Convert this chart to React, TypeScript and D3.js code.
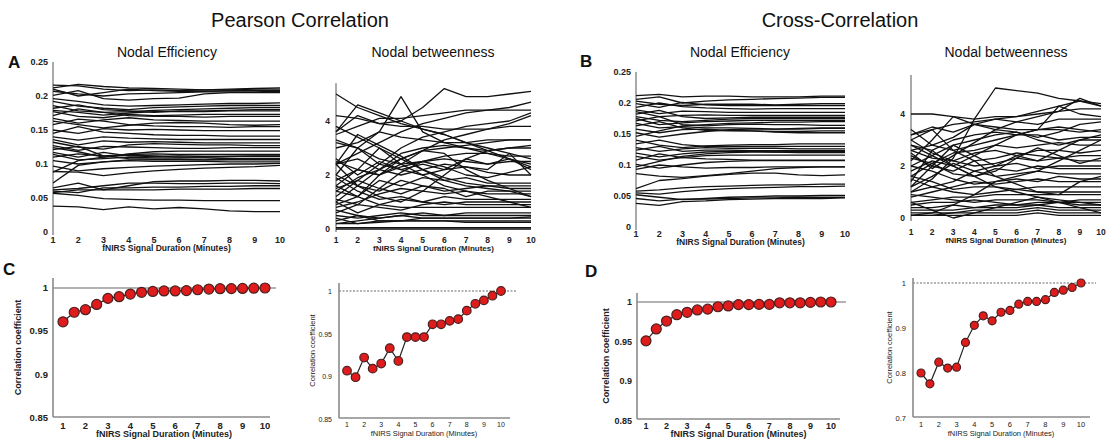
import React from "react";
import * as d3 from "d3";

const MINUTES = [1, 2, 3, 4, 5, 6, 7, 8, 9, 10];
const HALF_MINUTES = [1, 1.5, 2, 2.5, 3, 3.5, 4, 4.5, 5, 5.5, 6, 6.5, 7, 7.5, 8, 8.5, 9, 9.5, 10];
const EFF_TICKS = [0, 0.05, 0.1, 0.15, 0.2, 0.25];
const BTW_TICKS = [0, 2, 4];
const CORR_TICKS_HIGH = [0.85, 0.9, 0.95, 1];
const CORR_TICKS_LOW = [0.7, 0.8, 0.9, 1];

const effPearson = [
  [0.216, 0.215, 0.21, 0.208, 0.209, 0.208, 0.209, 0.21, 0.211, 0.212],
  [0.212, 0.217, 0.214, 0.212, 0.211, 0.21, 0.209, 0.209, 0.21, 0.21],
  [0.207, 0.203, 0.2, 0.203, 0.204, 0.205, 0.206, 0.206, 0.206, 0.207],
  [0.21, 0.2, 0.205, 0.21, 0.208, 0.207, 0.207, 0.208, 0.208, 0.208],
  [0.201, 0.208, 0.196, 0.194, 0.196, 0.197, 0.203, 0.205, 0.205, 0.205],
  [0.196, 0.192, 0.187, 0.185, 0.186, 0.187, 0.188, 0.189, 0.189, 0.19],
  [0.192, 0.185, 0.182, 0.18, 0.183, 0.184, 0.185, 0.186, 0.186, 0.186],
  [0.186, 0.178, 0.176, 0.177, 0.179, 0.18, 0.181, 0.182, 0.183, 0.183],
  [0.182, 0.187, 0.18, 0.178, 0.176, 0.178, 0.178, 0.179, 0.18, 0.18],
  [0.179, 0.176, 0.172, 0.175, 0.177, 0.177, 0.177, 0.178, 0.178, 0.178],
  [0.177, 0.17, 0.168, 0.173, 0.171, 0.172, 0.173, 0.173, 0.173, 0.173],
  [0.171, 0.181, 0.176, 0.171, 0.17, 0.17, 0.169, 0.17, 0.17, 0.17],
  [0.167, 0.16, 0.165, 0.168, 0.165, 0.164, 0.163, 0.163, 0.163, 0.163],
  [0.163, 0.158, 0.153, 0.157, 0.16, 0.161, 0.16, 0.158, 0.157, 0.158],
  [0.158, 0.166, 0.163, 0.158, 0.156, 0.155, 0.155, 0.154, 0.155, 0.155],
  [0.15, 0.145, 0.152, 0.15, 0.151, 0.15, 0.149, 0.149, 0.149, 0.149],
  [0.145, 0.155, 0.147, 0.145, 0.143, 0.142, 0.142, 0.141, 0.141, 0.141],
  [0.14, 0.135, 0.14, 0.138, 0.137, 0.136, 0.136, 0.136, 0.136, 0.136],
  [0.136, 0.128, 0.134, 0.132, 0.133, 0.132, 0.131, 0.131, 0.131, 0.131],
  [0.132, 0.125, 0.122, 0.128, 0.13, 0.129, 0.128, 0.128, 0.127, 0.127],
  [0.127, 0.12, 0.126, 0.125, 0.124, 0.123, 0.123, 0.124, 0.124, 0.124],
  [0.124, 0.118, 0.11, 0.115, 0.118, 0.119, 0.119, 0.119, 0.119, 0.119],
  [0.121, 0.126, 0.112, 0.114, 0.115, 0.114, 0.114, 0.114, 0.114, 0.114],
  [0.117, 0.11, 0.117, 0.112, 0.111, 0.112, 0.111, 0.111, 0.111, 0.111],
  [0.114, 0.106, 0.108, 0.11, 0.109, 0.109, 0.109, 0.108, 0.108, 0.108],
  [0.11, 0.115, 0.112, 0.108, 0.107, 0.107, 0.106, 0.106, 0.106, 0.106],
  [0.105, 0.1, 0.103, 0.105, 0.104, 0.104, 0.104, 0.103, 0.103, 0.103],
  [0.097, 0.09, 0.093, 0.095, 0.097, 0.098, 0.099, 0.1, 0.1, 0.101],
  [0.088, 0.105, 0.11, 0.113, 0.112, 0.11, 0.11, 0.111, 0.112, 0.112],
  [0.072, 0.098, 0.103, 0.106, 0.106, 0.106, 0.106, 0.107, 0.107, 0.107],
  [0.089, 0.088, 0.083, 0.087, 0.09, 0.092, 0.094, 0.095, 0.096, 0.098],
  [0.065, 0.072, 0.062, 0.068, 0.074, 0.075, 0.075, 0.076, 0.076, 0.075],
  [0.062, 0.064, 0.068, 0.072, 0.072, 0.071, 0.071, 0.072, 0.072, 0.071],
  [0.06, 0.058, 0.065, 0.065, 0.066, 0.066, 0.067, 0.067, 0.068, 0.068],
  [0.058, 0.062, 0.062, 0.062, 0.062, 0.063, 0.063, 0.063, 0.064, 0.064],
  [0.057, 0.054, 0.049, 0.048, 0.047, 0.047, 0.046, 0.046, 0.046, 0.046],
  [0.038, 0.037, 0.033, 0.037, 0.034, 0.036, 0.034, 0.031, 0.03, 0.03],
];

const btwPearson = [
  [3.6, 4.2, 3.9, 4.0, 4.5, 5.2, 4.9, 4.9, 5.0, 5.1],
  [5.0, 4.5, 4.2, 3.9, 3.7, 3.5, 3.2, 3.0, 2.8, 2.6],
  [2.0, 3.0, 3.6, 4.9, 3.6, 3.2, 3.0, 2.8, 2.6, 2.3],
  [3.6, 4.6, 4.3, 4.0, 3.7, 3.5, 3.2, 2.9, 2.6, 2.4],
  [2.4, 2.8, 3.2, 3.6, 3.9, 4.1, 4.3, 4.4, 4.5, 4.7],
  [1.5, 1.8, 2.4, 3.0, 3.4, 3.6, 3.8, 3.9, 4.0, 4.3],
  [2.5, 2.2, 2.0, 2.4, 2.9, 3.3, 3.5, 3.7, 3.9, 4.2],
  [3.5, 3.8, 4.1, 4.1, 4.2, 4.3, 4.4, 4.4, 4.4, 4.4],
  [4.2, 4.1, 3.9, 3.8, 3.8, 3.7, 3.7, 3.7, 3.8, 3.8],
  [1.0, 1.6, 2.2, 2.6, 2.9, 3.0, 3.1, 3.2, 3.3, 3.3],
  [3.0, 3.2, 3.6, 3.4, 3.3, 3.2, 3.2, 3.3, 3.3, 3.3],
  [2.4, 2.6, 2.2, 2.8, 3.0, 3.1, 3.0, 2.9, 3.0, 3.0],
  [3.2, 3.0, 2.6, 2.4, 2.5, 2.7, 2.8, 2.8, 2.7, 2.7],
  [1.8, 2.2, 2.0, 2.3, 2.5, 2.6, 2.5, 2.4, 2.5, 2.5],
  [2.6, 2.0, 2.5, 2.2, 2.4, 2.2, 2.6, 2.4, 2.6, 2.2],
  [1.4, 1.9, 2.2, 2.0, 2.2, 2.4, 2.3, 2.2, 2.8, 2.0],
  [3.3, 3.0, 2.4, 2.2, 2.0, 2.2, 2.3, 2.1, 2.0, 2.0],
  [1.6, 1.2, 1.8, 1.6, 1.9, 1.8, 1.9, 1.7, 1.7, 1.7],
  [2.4, 1.6, 1.4, 1.8, 1.6, 1.4, 1.5, 1.6, 1.6, 1.6],
  [1.2, 1.8, 1.5, 1.3, 1.6, 1.5, 1.2, 1.4, 1.4, 1.4],
  [0.8, 1.0, 1.3, 1.5, 1.4, 1.3, 1.4, 1.3, 1.3, 1.3],
  [1.9, 1.4, 1.1, 1.2, 1.0, 1.2, 1.1, 1.1, 1.1, 1.1],
  [1.0, 0.6, 0.9, 1.1, 1.0, 0.9, 1.0, 1.0, 1.0, 1.0],
  [0.6, 0.9, 0.8, 0.7, 0.9, 1.0, 0.9, 0.9, 0.9, 0.9],
  [1.4, 1.2, 0.9, 0.8, 0.8, 0.8, 0.8, 0.8, 0.8, 0.8],
  [0.5, 0.4, 0.5, 0.6, 0.5, 0.5, 0.6, 0.6, 0.6, 0.6],
  [0.3, 0.5, 0.4, 0.5, 0.6, 0.5, 0.5, 0.5, 0.5, 0.5],
  [0.2, 0.3, 0.4, 0.5, 0.4, 0.4, 0.4, 0.4, 0.4, 0.45],
  [0.7, 0.5, 0.3, 0.3, 0.4, 0.4, 0.4, 0.4, 0.4, 0.4],
  [0.4, 0.2, 0.3, 0.3, 0.3, 0.3, 0.3, 0.3, 0.3, 0.3],
  [0.2, 0.2, 0.25, 0.3, 0.3, 0.3, 0.25, 0.25, 0.25, 0.25],
  [0.05, 0.05, 0.05, 0.05, 0.05, 0.05, 0.05, 0.05, 0.05, 0.05],
  [0, 0, 0, 0, 0, 0, 0, 0, 0, 0],
  [1.6, 2.2, 3.0, 2.4, 2.0, 1.6, 1.4, 1.2, 1.0, 0.8],
  [0.9, 1.2, 2.0, 2.6, 2.9, 2.8, 2.2, 1.8, 1.5, 1.2],
  [2.0, 1.6, 1.2, 1.0, 1.4, 2.0, 2.6, 2.9, 3.0, 3.1],
  [3.8, 3.4, 3.0, 2.6, 2.2, 1.8, 1.6, 1.5, 1.4, 1.2],
  [2.4, 3.5, 3.1, 2.7, 2.2, 1.9, 1.7, 1.6, 1.5, 1.5],
  [1.1, 0.9, 1.5, 2.1, 2.5, 2.3, 2.0, 1.9, 2.1, 2.3],
];

const effCross = [
  [0.212, 0.214, 0.21, 0.211, 0.211, 0.21, 0.21, 0.21, 0.211, 0.211],
  [0.206, 0.21, 0.2, 0.203, 0.205, 0.206, 0.207, 0.208, 0.209, 0.209],
  [0.203, 0.198, 0.196, 0.198, 0.198, 0.198, 0.197, 0.198, 0.199, 0.199],
  [0.199, 0.193, 0.201, 0.197, 0.196, 0.196, 0.196, 0.196, 0.196, 0.196],
  [0.193, 0.2, 0.194, 0.192, 0.191, 0.19, 0.191, 0.191, 0.191, 0.191],
  [0.189, 0.183, 0.187, 0.186, 0.185, 0.185, 0.185, 0.185, 0.185, 0.185],
  [0.186, 0.178, 0.18, 0.181, 0.18, 0.18, 0.18, 0.18, 0.18, 0.18],
  [0.182, 0.188, 0.178, 0.175, 0.176, 0.177, 0.177, 0.177, 0.177, 0.177],
  [0.178, 0.172, 0.17, 0.172, 0.174, 0.175, 0.175, 0.175, 0.175, 0.175],
  [0.175, 0.165, 0.168, 0.17, 0.171, 0.172, 0.172, 0.172, 0.172, 0.172],
  [0.171, 0.178, 0.165, 0.163, 0.165, 0.166, 0.165, 0.165, 0.164, 0.164],
  [0.167, 0.16, 0.162, 0.16, 0.16, 0.159, 0.158, 0.159, 0.16, 0.16],
  [0.163, 0.17, 0.16, 0.156, 0.155, 0.155, 0.154, 0.154, 0.155, 0.155],
  [0.158, 0.152, 0.157, 0.158, 0.156, 0.155, 0.153, 0.152, 0.152, 0.152],
  [0.152, 0.145, 0.15, 0.154, 0.157, 0.158, 0.158, 0.158, 0.159, 0.159],
  [0.146, 0.155, 0.163, 0.165, 0.167, 0.168, 0.169, 0.169, 0.17, 0.17],
  [0.14, 0.132, 0.128, 0.131, 0.132, 0.133, 0.133, 0.134, 0.134, 0.134],
  [0.134, 0.14, 0.133, 0.13, 0.13, 0.13, 0.13, 0.13, 0.13, 0.13],
  [0.128, 0.122, 0.126, 0.128, 0.127, 0.127, 0.127, 0.126, 0.126, 0.126],
  [0.124, 0.13, 0.122, 0.124, 0.124, 0.123, 0.123, 0.123, 0.123, 0.123],
  [0.119, 0.113, 0.118, 0.121, 0.122, 0.122, 0.121, 0.12, 0.12, 0.12],
  [0.114, 0.108, 0.112, 0.115, 0.116, 0.116, 0.116, 0.116, 0.116, 0.116],
  [0.108, 0.118, 0.112, 0.11, 0.109, 0.108, 0.108, 0.108, 0.108, 0.108],
  [0.101, 0.095, 0.1, 0.104, 0.106, 0.107, 0.107, 0.107, 0.107, 0.107],
  [0.097, 0.106, 0.114, 0.118, 0.12, 0.121, 0.121, 0.122, 0.122, 0.122],
  [0.093, 0.1, 0.097, 0.095, 0.096, 0.096, 0.097, 0.097, 0.097, 0.097],
  [0.086, 0.082, 0.08, 0.083, 0.086, 0.09, 0.094, 0.096, 0.097, 0.097],
  [0.062, 0.075, 0.078, 0.082, 0.085, 0.087, 0.087, 0.084, 0.083, 0.084],
  [0.058, 0.06, 0.063, 0.065, 0.066, 0.067, 0.068, 0.068, 0.069, 0.069],
  [0.055, 0.053, 0.057, 0.06, 0.062, 0.063, 0.064, 0.065, 0.065, 0.066],
  [0.052, 0.048, 0.044, 0.046, 0.048, 0.049, 0.05, 0.05, 0.051, 0.051],
  [0.046, 0.042, 0.045, 0.045, 0.046, 0.047, 0.047, 0.048, 0.048, 0.048],
  [0.038, 0.035, 0.041, 0.042, 0.044, 0.045, 0.046, 0.046, 0.046, 0.047],
];

const btwCross = [
  [1.0, 1.5, 2.3, 3.8, 5.0, 4.9, 4.8, 4.6, 4.5, 4.4],
  [4.0, 4.0, 3.9, 3.8, 3.9, 3.9, 4.1, 4.3, 4.5, 4.3],
  [2.2, 3.0, 3.9, 3.6, 3.5, 3.4, 3.4, 3.5, 3.4, 3.3],
  [3.0, 3.4, 3.6, 3.7, 3.8, 3.9, 4.0, 4.1, 4.2, 4.2],
  [2.6, 2.8, 3.1, 3.6, 3.4, 3.7, 3.9, 4.1, 4.6, 4.3],
  [1.8, 2.2, 2.0, 2.4, 2.8, 3.2, 3.4, 4.3, 4.0, 3.9],
  [3.2, 3.5, 3.3, 3.6, 3.8, 3.7, 3.6, 3.8, 3.8, 3.8],
  [2.8, 2.6, 3.0, 3.2, 3.3, 3.2, 3.4, 3.4, 3.3, 3.4],
  [3.2, 3.4, 2.6, 2.8, 3.0, 3.2, 3.2, 3.0, 3.1, 3.1],
  [2.0, 2.4, 2.8, 3.0, 3.2, 3.3, 3.0, 2.8, 3.0, 3.0],
  [1.6, 2.1, 2.5, 2.6, 2.8, 2.7, 2.8, 2.9, 2.8, 2.8],
  [2.6, 2.3, 2.2, 2.5, 2.6, 2.4, 2.6, 2.6, 2.5, 2.6],
  [2.4, 2.0, 1.8, 2.2, 2.3, 2.5, 2.4, 2.3, 2.4, 2.4],
  [3.0, 2.5, 2.2, 2.0, 2.1, 2.3, 2.2, 2.3, 2.2, 2.2],
  [1.2, 1.6, 2.1, 1.8, 2.0, 2.1, 1.9, 2.0, 2.0, 2.0],
  [2.3, 2.1, 1.7, 1.6, 1.9, 1.8, 2.0, 1.9, 1.9, 1.9],
  [1.5, 1.2, 1.4, 1.8, 1.6, 1.7, 1.8, 1.7, 1.7, 1.7],
  [2.0, 1.8, 1.5, 1.3, 1.4, 1.5, 1.4, 1.6, 1.5, 1.5],
  [0.8, 1.0, 1.2, 1.4, 1.3, 1.4, 1.5, 1.4, 1.4, 1.4],
  [1.6, 1.4, 1.1, 1.2, 1.2, 1.1, 1.2, 1.2, 1.2, 1.2],
  [1.0, 1.2, 1.0, 0.9, 1.0, 1.1, 1.0, 1.0, 1.0, 1.0],
  [0.6, 0.7, 0.8, 0.8, 0.9, 0.9, 0.9, 0.9, 0.9, 0.9],
  [0.9, 0.8, 0.7, 0.6, 0.7, 0.7, 0.7, 0.6, 0.7, 0.7],
  [0.5, 0.6, 0.6, 0.7, 0.6, 0.5, 0.6, 0.6, 0.6, 0.6],
  [0.4, 0.4, 0.5, 0.4, 0.5, 0.5, 0.5, 0.6, 0.5, 0.5],
  [0.3, 0.3, 0.3, 0.4, 0.4, 0.4, 0.5, 0.4, 0.4, 0.4],
  [0.2, 0.2, 0.2, 0.3, 0.3, 0.3, 0.4, 0.3, 0.3, 0.3],
  [0.1, 0.1, 0.2, 0.2, 0.2, 0.2, 0.3, 0.2, 0.2, 0.2],
  [0.1, 0.1, 0.1, 0.1, 0.1, 0.1, 0.2, 0.1, 0.1, 0.1],
  [0.1, 0.2, 0.5, 0.9, 1.4, 1.6, 1.8, 2.2, 2.6, 3.0],
  [2.8, 2.4, 2.0, 1.6, 1.2, 1.0, 0.8, 0.6, 0.4, 0.2],
  [1.2, 2.0, 2.8, 2.4, 2.0, 2.4, 2.2, 2.6, 3.0, 3.2],
  [3.4, 2.8, 2.6, 2.2, 1.6, 1.3, 1.0, 0.9, 1.4, 1.6],
  [0.6, 0.3, 0.0, 0.2, 0.4, 0.6, 0.8, 0.7, 0.6, 0.5],
  [2.5, 1.9, 2.4, 2.9, 3.4, 3.3, 3.1, 3.3, 3.6, 3.7],
  [1.4, 2.6, 2.0, 1.6, 1.8, 2.3, 2.7, 2.4, 2.1, 2.3],
];

const corrEffPearson = [0.961, 0.972, 0.975, 0.981, 0.988, 0.99, 0.993, 0.995, 0.996, 0.9966, 0.9966, 0.997, 0.998, 0.9988, 0.9992, 0.9993, 0.9995, 0.9998, 1.0];
const corrBtwPearson = [0.9066, 0.899, 0.922, 0.909, 0.915, 0.933, 0.918, 0.946, 0.946, 0.946, 0.961, 0.961, 0.965, 0.967, 0.977, 0.985, 0.989, 0.9945, 1.0];
const corrEffCross = [0.951, 0.966, 0.976, 0.984, 0.987, 0.99, 0.991, 0.994, 0.995, 0.9967, 0.9967, 0.997, 0.997, 0.999, 0.999, 0.999, 0.9995, 1.0, 1.0];
const corrBtwCross = [0.8, 0.776, 0.824, 0.811, 0.813, 0.868, 0.906, 0.927, 0.916, 0.935, 0.939, 0.953, 0.959, 0.959, 0.963, 0.979, 0.984, 0.99, 1.0];

const FONT = "'Liberation Sans', Arial, Helvetica, sans-serif";

type LineProps = {
  data: number[][];
  xLeft: number; xRight: number; yZero: number; yTop: number; domainMax: number;
  ticks: number[]; axisTop: number;
  title: string; titleX: number; titleY: number;
  tickY: number; labelY: number; tickRight: number;
  tickSize: number; labelSize: number;
};

function LinePanel(p: LineProps) {
  const x = d3.scaleLinear().domain([1, 10]).range([p.xLeft, p.xRight]);
  const y = d3.scaleLinear().domain([0, p.domainMax]).range([p.yZero, p.yTop]);
  const line = d3.line<number>().x((_, i) => x(MINUTES[i])).y((d) => y(d));
  return (
    <g>
      <text x={p.titleX} y={p.titleY} fontSize={14} textAnchor="middle" fill="#111" fontFamily={FONT}>{p.title}</text>
      <line x1={p.xLeft} x2={p.xLeft} y1={y(p.axisTop)} y2={p.yZero + 3} stroke="#555" strokeWidth={1} />
      {p.data.map((s, i) => (
        <path key={i} d={line(s) || ""} fill="none" stroke="#111" strokeWidth={1.3} strokeLinejoin="round" />
      ))}
      {p.ticks.map((t) => (
        <text key={t} x={p.tickRight} y={y(t) + 3} fontSize={p.tickSize} fontWeight="bold" textAnchor="end" fill="#222" fontFamily={FONT}>{String(t)}</text>
      ))}
      {MINUTES.map((m) => (
        <text key={m} x={x(m)} y={p.tickY} fontSize={p.tickSize} fontWeight="bold" textAnchor="middle" fill="#222" fontFamily={FONT}>{String(m)}</text>
      ))}
      <text x={(p.xLeft + p.xRight) / 2} y={p.labelY} fontSize={p.labelSize} fontWeight="bold" textAnchor="middle" fill="#222" fontFamily={FONT}>fNIRS Signal Duration (Minutes)</text>
    </g>
  );
}

type DotProps = {
  data: number[];
  axisX: number; axisRight: number; axisY: number; axisTop: number;
  xLeft: number; xRight: number; yLow: number; yHigh: number; domainLow: number;
  ticks: number[]; tickRight: number; tickY: number; labelY: number; ylabelX: number;
  tickSize: number; labelSize: number; bold: boolean; r: number; dashed: boolean;
};

function DotPanel(p: DotProps) {
  const x = d3.scaleLinear().domain([1, 10]).range([p.xLeft, p.xRight]);
  const y = d3.scaleLinear().domain([p.domainLow, 1]).range([p.yLow, p.yHigh]);
  const line = d3.line<number>().x((_, i) => x(HALF_MINUTES[i])).y((d) => y(d));
  const fw = p.bold ? "bold" : "normal";
  const midY = (p.axisY + p.axisTop) / 2;
  return (
    <g>
      <line x1={p.axisX} x2={p.axisRight + 6} y1={y(1)} y2={y(1)} stroke="#9a9a9a" strokeWidth={1.3} strokeDasharray={p.dashed ? "2,1.5" : undefined} />
      <line x1={p.axisX} x2={p.axisX} y1={p.axisTop} y2={p.axisY} stroke="#8a8a8a" strokeWidth={1.6} />
      <line x1={p.axisX} x2={p.axisRight} y1={p.axisY} y2={p.axisY} stroke="#8a8a8a" strokeWidth={1.6} />
      <path d={line(p.data) || ""} fill="none" stroke="#222" strokeWidth={1.2} />
      {p.data.map((v, i) => (
        <circle key={i} cx={x(HALF_MINUTES[i])} cy={y(v)} r={p.r} fill="#e01b1b" stroke="#4a2020" strokeWidth={1.2} />
      ))}
      {p.ticks.map((t) => (
        <text key={t} x={p.tickRight} y={y(t) + 3} fontSize={p.tickSize} fontWeight={fw} textAnchor="end" fill="#222" fontFamily={FONT}>{String(t)}</text>
      ))}
      {MINUTES.map((m) => (
        <text key={m} x={x(m)} y={p.tickY} fontSize={p.tickSize} fontWeight={fw} textAnchor="middle" fill="#222" fontFamily={FONT}>{String(m)}</text>
      ))}
      <text x={(p.xLeft + p.xRight) / 2} y={p.labelY} fontSize={p.labelSize} fontWeight={fw} textAnchor="middle" fill="#222" fontFamily={FONT}>fNIRS Signal Duration (Minutes)</text>
      <text transform={`translate(${p.ylabelX},${midY}) rotate(-90)`} fontSize={p.labelSize} fontWeight={fw} textAnchor="middle" fill="#222" fontFamily={FONT}>Correlation coefficient</text>
    </g>
  );
}

export default function App() {
  return (
    <svg width={1110} height={439} style={{ position: "absolute", left: 0, top: 0, background: "#fff" }}>
      <rect width={1110} height={439} fill="#fff" />
      <text x={300} y={27} fontSize={20} textAnchor="middle" fill="#111" fontFamily={FONT}>Pearson Correlation</text>
      <text x={840} y={27} fontSize={20} textAnchor="middle" fill="#111" fontFamily={FONT}>Cross-Correlation</text>
      <text x={8} y={68} fontSize={17} fontWeight="bold" fill="#111" fontFamily={FONT}>A</text>
      <text x={580} y={67} fontSize={17} fontWeight="bold" fill="#111" fontFamily={FONT}>B</text>
      <text x={3} y={275} fontSize={17} fontWeight="bold" fill="#111" fontFamily={FONT}>C</text>
      <text x={585} y={277} fontSize={17} fontWeight="bold" fill="#111" fontFamily={FONT}>D</text>

      <LinePanel data={effPearson} xLeft={53} xRight={280} yZero={232} yTop={62} domainMax={0.25} ticks={EFF_TICKS} axisTop={0.25}
        title="Nodal Efficiency" titleX={167} titleY={57} tickY={243} labelY={251} tickRight={48} tickSize={9} labelSize={8.5} />
      <LinePanel data={btwPearson} xLeft={336} xRight={531} yZero={229} yTop={67} domainMax={6} ticks={BTW_TICKS} axisTop={5.4}
        title="Nodal betweenness" titleX={433} titleY={57} tickY={243} labelY={251} tickRight={330} tickSize={8.5} labelSize={8} />
      <LinePanel data={effCross} xLeft={636} xRight={845} yZero={227} yTop={72} domainMax={0.25} ticks={EFF_TICKS} axisTop={0.25}
        title="Nodal Efficiency" titleX={740} titleY={57} tickY={237} labelY={245} tickRight={631} tickSize={9} labelSize={8.5} />
      <LinePanel data={btwCross} xLeft={911} xRight={1101} yZero={218} yTop={62} domainMax={6} ticks={BTW_TICKS} axisTop={5.5}
        title="Nodal betweenness" titleX={1006} titleY={57} tickY={235} labelY={243} tickRight={905} tickSize={8.5} labelSize={8} />

      <DotPanel data={corrEffPearson} axisX={53} axisRight={270} axisY={417} axisTop={278} xLeft={63} xRight={265}
        yLow={418} yHigh={288} domainLow={0.85} ticks={CORR_TICKS_HIGH} tickRight={48} tickY={429} labelY={437} ylabelX={21}
        tickSize={9.5} labelSize={9} bold={true} r={5} dashed={false} />
      <DotPanel data={corrBtwPearson} axisX={339} axisRight={510} axisY={418} axisTop={283} xLeft={347} xRight={501}
        yLow={419} yHigh={291} domainLow={0.85} ticks={CORR_TICKS_HIGH} tickRight={332} tickY={427} labelY={436} ylabelX={315}
        tickSize={7} labelSize={7.5} bold={false} r={4.3} dashed={true} />
      <DotPanel data={corrEffCross} axisX={637} axisRight={840} axisY={419} axisTop={293} xLeft={646} xRight={831}
        yLow={421} yHigh={302} domainLow={0.85} ticks={CORR_TICKS_HIGH} tickRight={632} tickY={429} labelY={437} ylabelX={609}
        tickSize={9} labelSize={9} bold={true} r={5} dashed={false} />
      <DotPanel data={corrBtwCross} axisX={913} axisRight={1090} axisY={417} axisTop={278} xLeft={921} xRight={1081}
        yLow={418} yHigh={283} domainLow={0.7} ticks={CORR_TICKS_LOW} tickRight={906} tickY={427} labelY={436} ylabelX={892}
        tickSize={7.5} labelSize={7.5} bold={false} r={4} dashed={true} />
    </svg>
  );
}
